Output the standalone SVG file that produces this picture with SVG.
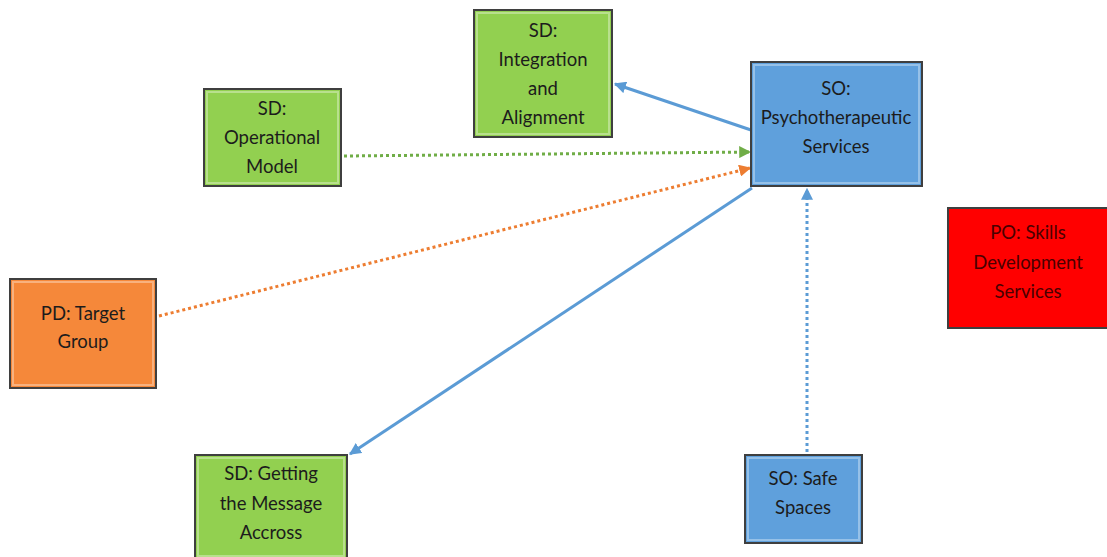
<svg xmlns="http://www.w3.org/2000/svg" width="1107" height="557" viewBox="0 0 1107 557">
<style>
.box{stroke:#3f3f3f;stroke-width:2}
.green{fill:#92D050}
.blue{fill:#5FA0DC}
.orange{fill:#F5883A}
.red{fill:#FF0000}
.bevel{fill:none;stroke:#ffffff;stroke-opacity:0.35;stroke-width:2}
text{font-family:"Lato","Liberation Sans",sans-serif;font-size:18.5px;fill:#1c1c1c;text-anchor:middle;dominant-baseline:central}
.redtxt{fill:#4a0000}
.conn{fill:none;stroke-width:3}
</style>
<defs>
<marker id="aBlue" viewBox="0 0 10 10" refX="9" refY="5" markerWidth="4" markerHeight="4" orient="auto" markerUnits="strokeWidth"><path d="M0,0 L10,5 L0,10 z" fill="#5B9BD5"/></marker>
<marker id="aGreen" viewBox="0 0 10 10" refX="9" refY="5" markerWidth="4" markerHeight="4" orient="auto" markerUnits="strokeWidth"><path d="M0,0 L10,5 L0,10 z" fill="#70AD47"/></marker>
<marker id="aOrange" viewBox="0 0 10 10" refX="9" refY="5" markerWidth="4" markerHeight="4" orient="auto" markerUnits="strokeWidth"><path d="M0,0 L10,5 L0,10 z" fill="#ED7D31"/></marker>
</defs>
<rect width="1107" height="557" fill="#ffffff"/>
<g id="connectors">
<line class="conn" x1="751" y1="130" x2="615" y2="84" stroke="#5B9BD5" marker-end="url(#aBlue)"/>
<line class="conn" x1="344" y1="156" x2="750" y2="152" stroke="#70AD47" stroke-dasharray="3 3" marker-end="url(#aGreen)"/>
<line class="conn" x1="159" y1="316" x2="750" y2="168" stroke="#ED7D31" stroke-dasharray="3 3" marker-end="url(#aOrange)"/>
<line class="conn" x1="752" y1="188" x2="350" y2="454" stroke="#5B9BD5" marker-end="url(#aBlue)"/>
<line class="conn" x1="807" y1="452" x2="807" y2="189" stroke="#5B9BD5" stroke-dasharray="3 3" marker-end="url(#aBlue)"/>
</g>
<g id="integration">
<rect class="box green" x="474" y="10" width="138" height="127"/>
<rect class="bevel" x="477" y="13" width="132" height="121"/>
<text x="543" y="30">SD:</text>
<text x="543" y="59">Integration</text>
<text x="543" y="88">and</text>
<text x="543" y="117">Alignment</text>
</g>
<g id="psycho">
<rect class="box blue" x="751" y="62" width="171" height="124"/>
<rect class="bevel" x="754" y="65" width="165" height="118"/>
<text x="836" y="88">SO:</text>
<text x="836" y="117">Psychotherapeutic</text>
<text x="836" y="146">Services</text>
</g>
<g id="operational">
<rect class="box green" x="204" y="89" width="137" height="97"/>
<rect class="bevel" x="207" y="92" width="131" height="91"/>
<text x="272" y="108">SD:</text>
<text x="272" y="137">Operational</text>
<text x="272" y="166">Model</text>
</g>
<g id="target">
<rect class="box orange" x="10" y="279" width="146" height="109"/>
<rect class="bevel" x="13" y="282" width="140" height="103"/>
<text x="83" y="313">PD: Target</text>
<text x="83" y="341">Group</text>
</g>
<g id="message">
<rect class="box green" x="195" y="455" width="152" height="104"/>
<rect class="bevel" x="198" y="458" width="146" height="98"/>
<text x="271" y="473">SD: Getting</text>
<text x="271" y="503">the Message</text>
<text x="271" y="532">Accross</text>
</g>
<g id="safe">
<rect class="box blue" x="745" y="455" width="117" height="88"/>
<rect class="bevel" x="748" y="458" width="111" height="82"/>
<text x="803" y="478">SO: Safe</text>
<text x="803" y="507">Spaces</text>
</g>
<g id="skills">
<rect class="box red" x="948" y="208" width="162" height="120"/>
<text class="redtxt" x="1028" y="232">PO: Skills</text>
<text class="redtxt" x="1028" y="262">Development</text>
<text class="redtxt" x="1028" y="291">Services</text>
</g>
</svg>
